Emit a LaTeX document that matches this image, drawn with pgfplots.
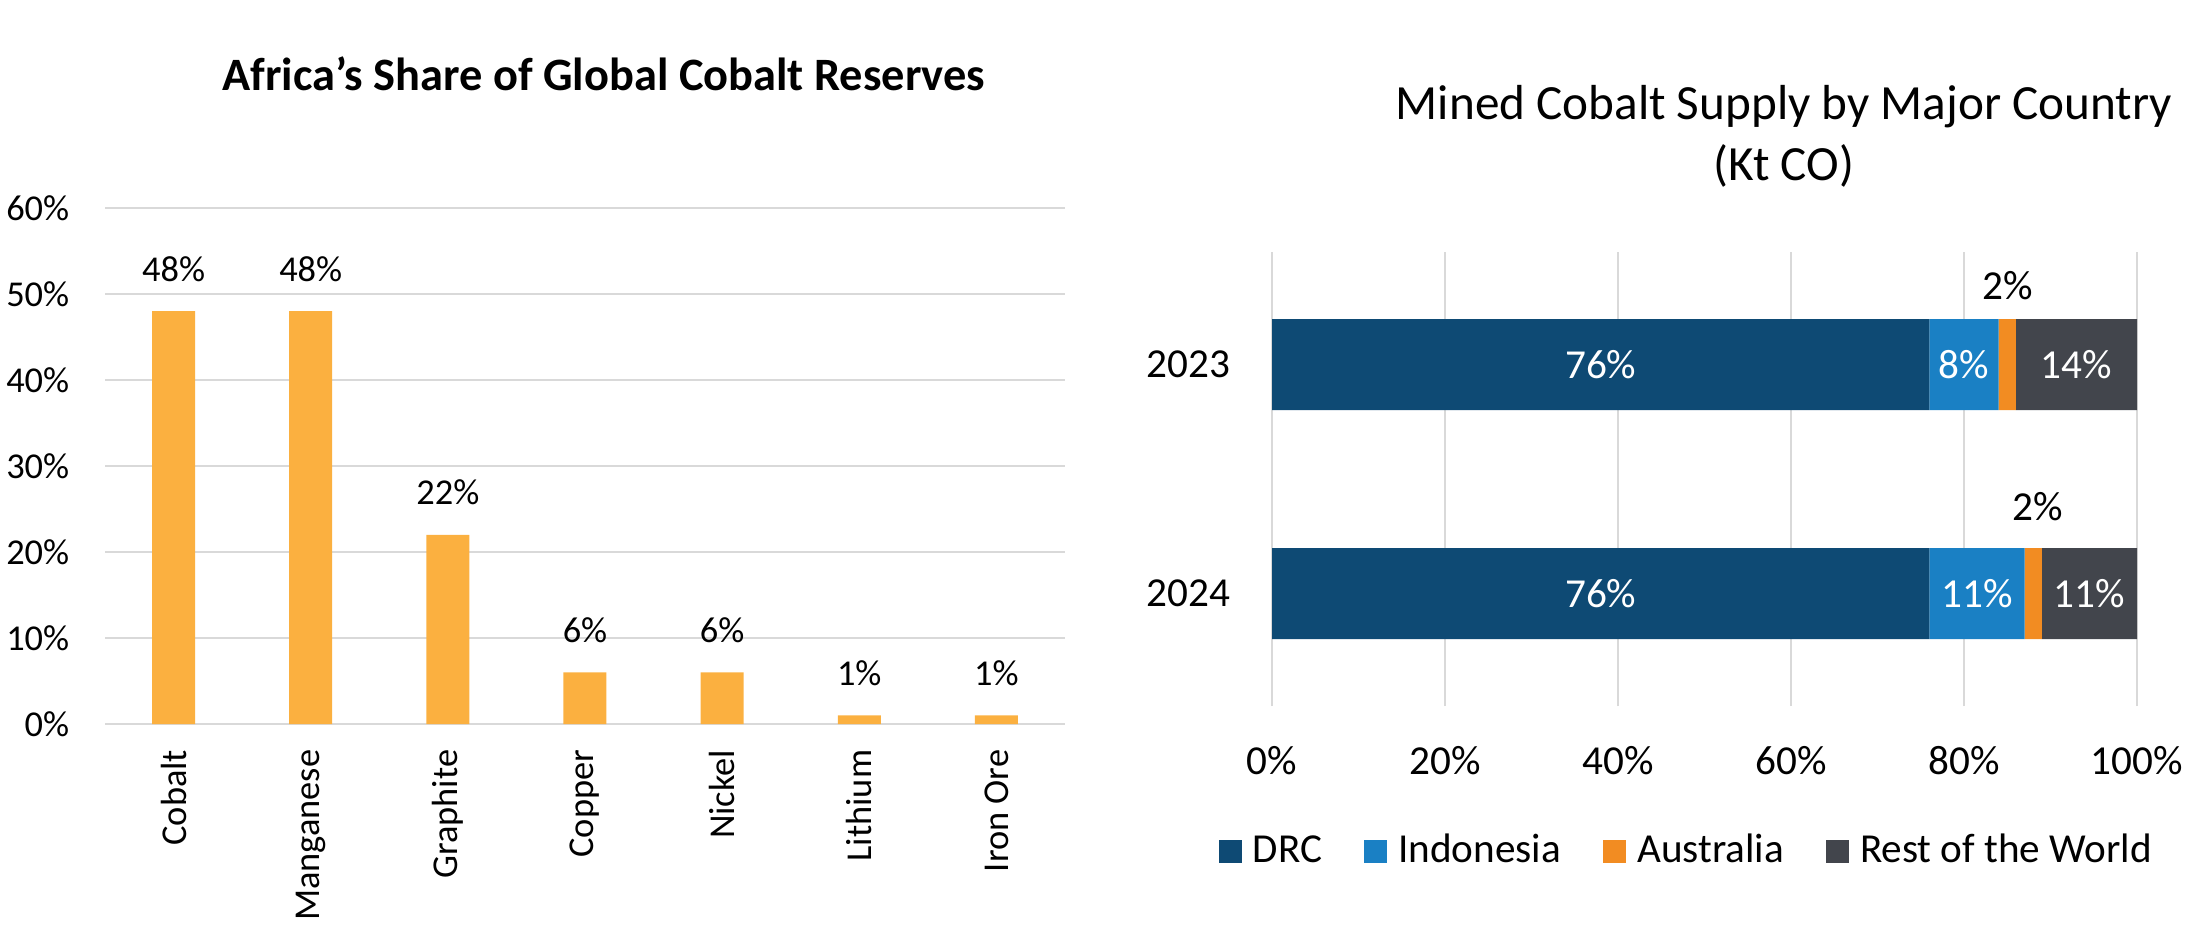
\documentclass[border=0pt]{standalone}
\usepackage{fontspec}
\setmainfont{Carlito}
\usepackage{pgfplots}
\usepackage{pgfplotstable}
\pgfplotsset{compat=1.18}
\pgfplotsset{/pgf/number format/assume math mode=true}

\definecolor{barorange}{HTML}{FBB040}
\definecolor{drc}{HTML}{0E4A74}
\definecolor{indo}{HTML}{1A80C4}
\definecolor{aus}{HTML}{F28C22}
\definecolor{rest}{HTML}{42454C}
\definecolor{gridgray}{HTML}{D9D9D9}

\newcommand\lfont{\fontsize{9.1pt}{11pt}\selectfont}
\newcommand\rfont{\fontsize{10.3pt}{12pt}\selectfont}

% Mined supply shares, 2023 at y=1 and 2024 at y=0
\pgfplotstableread{
y drc indo aus rest
1 76 8 2 14
0 76 11 2 11
}\supply

% in-bar value labels (segment centres)
\pgfplotstableread{
x y v
38 1 76
80 1 8
93 1 14
38 0 76
81.5 0 11
94.5 0 11
}\inbar

% Australia labels above the bars
\pgfplotstableread{
x y v
85 1.2817 2
88.55 0.318 2
}\abovebar

\begin{document}
\begin{tikzpicture}
\path (0,0) rectangle (548.5pt,233.75pt);

% ---------------- left: Africa's share of reserves ----------------
\node[anchor=base, font=\fontsize{11.6pt}{14pt}\selectfont\bfseries] at (151pt,211.25pt)
  {Africa’s Share of Global Cobalt Reserves};

\begin{axis}[
  at={(26.25pt,52.75pt)}, anchor=south west,
  scale only axis, width=240pt, height=129pt,
  xmin=-0.5, xmax=6.5, ymin=0, ymax=60,
  ybar, bar width=10.75pt,
  xtick={0,...,6},
  xticklabels={Cobalt,Manganese,Graphite,Copper,Nickel,Lithium,Iron Ore},
  ytick={0,10,...,60},
  yticklabels={0\%,10\%,20\%,30\%,40\%,50\%,60\%},
  ymajorgrids, grid style={gridgray, line width=0.5pt},
  axis line style={draw=none},
  major tick length=0pt,
  tick label style={font=\lfont, inner sep=0pt},
  xticklabel style={yshift=-6.25pt, rotate=90, anchor=east},
  yticklabel style={anchor=east, xshift=-8.75pt},
  nodes near coords={\pgfmathprintnumber{\pgfplotspointmeta}\%},
  nodes near coords style={font=\lfont, inner sep=0pt, anchor=south, yshift=7.25pt},
  clip=false,
]
\addplot[fill=barorange, draw=none] coordinates {
  (0,48) (1,48) (2,22) (3,6) (4,6) (5,1) (6,1)};
\end{axis}

% ---------------- right: mined cobalt supply ----------------
\node[anchor=base, font=\fontsize{12.3pt}{14pt}\selectfont] at (446pt,204pt)
  {Mined Cobalt Supply by Major Country};
\node[anchor=base, font=\fontsize{12.3pt}{14pt}\selectfont] at (446pt,188.75pt)
  {(Kt CO)};

\begin{axis}[
  at={(318pt,57.25pt)}, anchor=south west,
  scale only axis, width=216.25pt, height=113.5pt,
  xbar stacked, bar width=22.75pt,
  xmin=0, xmax=100, ymin=-0.4913, ymax=1.4913,
  ytick={0,1}, yticklabels={2024,2023},
  xtick={0,20,...,100},
  xticklabels={0\%,20\%,40\%,60\%,80\%,100\%},
  xmajorgrids, grid style={gridgray, line width=0.6pt},
  axis line style={draw=none},
  major tick length=0pt,
  tick label style={font=\rfont, inner sep=0pt},
  yticklabel style={anchor=east, xshift=-10.25pt},
  xticklabel style={anchor=north, yshift=-10pt},
  legend columns=4,
  legend image code/.code={\fill[#1] (0pt,0pt) rectangle (5.75pt,5.75pt);},
  legend style={at={(-0.0613,-0.2819)}, anchor=north west,
    draw=none, fill=none, inner sep=0pt, outer sep=0pt,
    font=\rfont, nodes={inner sep=0pt}, cells={anchor=base west},
    column sep=0pt,
    /tikz/every odd column/.append style={column sep=2.75pt},
    /tikz/every even column/.append style={column sep=10.5pt}},
  clip=false,
]
\addplot[fill=drc, draw=none] table[x=drc, y=y] {\supply};
\addlegendentry{DRC}
\addplot[fill=indo, draw=none] table[x=indo, y=y] {\supply};
\addlegendentry{Indonesia}
\addplot[fill=aus, draw=none] table[x=aus, y=y] {\supply};
\addlegendentry{Australia}
\addplot[fill=rest, draw=none] table[x=rest, y=y] {\supply};
\addlegendentry{Rest of the World}
\end{axis}

% value labels on the same axis geometry
\begin{axis}[
  at={(318pt,57.25pt)}, anchor=south west,
  scale only axis, width=216.25pt, height=113.5pt,
  xmin=0, xmax=100, ymin=-0.4913, ymax=1.4913,
  hide axis, clip=false,
]
\addplot[only marks, mark=none, point meta=explicit,
  nodes near coords={\pgfmathprintnumber{\pgfplotspointmeta}\%},
  nodes near coords style={font=\rfont, text=white, inner sep=0pt, anchor=center}]
  table[x=x, y=y, meta=v] {\inbar};
\addplot[only marks, mark=none, point meta=explicit,
  nodes near coords={\pgfmathprintnumber{\pgfplotspointmeta}\%},
  nodes near coords style={font=\rfont, text=black, inner sep=0pt, anchor=base}]
  table[x=x, y=y, meta=v] {\abovebar};
\end{axis}
\end{tikzpicture}
\end{document}
